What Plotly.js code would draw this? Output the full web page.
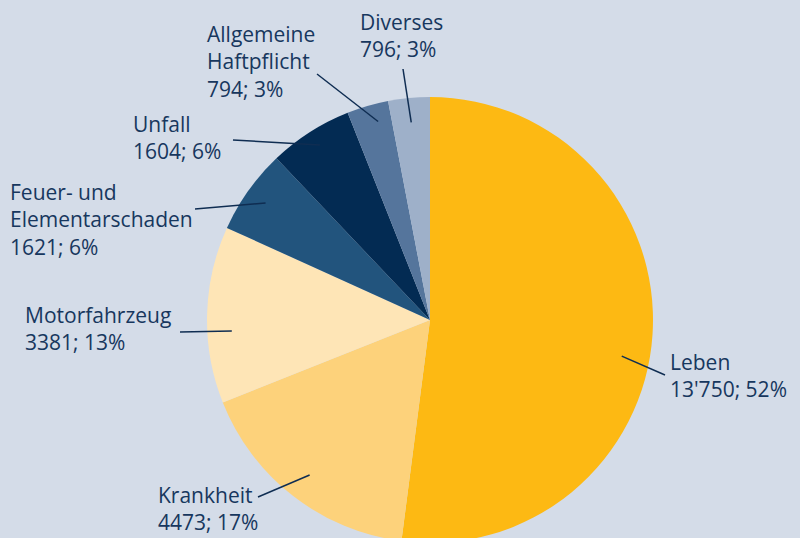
<!DOCTYPE html>
<html>
<head>
<meta charset="utf-8">
<script src="https://cdn.plot.ly/plotly-3.0.1.min.js"></script>
<style>
html, body { margin: 0; padding: 0; overflow: hidden; background: #d4dce8; }
#chart { width: 800px; height: 640px; }
</style>
</head>
<body>
<div id="chart"></div>
<script>
// ---- data ----
const categories = ["Leben", "Krankheit", "Motorfahrzeug", "Feuer- und<br>Elementarschaden", "Unfall", "Allgemeine<br>Haftpflicht", "Diverses"];
const values = [13750, 4473, 3381, 1621, 1604, 794, 796];
const valueLabels = ["13'750", "4473", "3381", "1621", "1604", "794", "796"];
const percentLabels = ["52%", "17%", "13%", "6%", "6%", "3%", "3%"];
const colors = ["#fdb913", "#fdd27b", "#fee5b6", "#22547d", "#032b53", "#55759c", "#9eb0c9"];

// ---- layout helpers ----
const W = 800, H = 640;
const cx = 430, cy = 320, R = 223;
const px2x = p => p / W;
const py2y = p => 1 - p / H;

// label text top-left positions and leader-line outer ends (px)
const labelPos = [[668, 346], [156, 479], [23, 299], [8, 176], [131, 108], [205, 18], [358, 6]];
const lineOuter = [[665, 375], [258, 497], [180, 332], [195, 209], [233, 140], [317, 74], [403, 69]];
const lineRf = [0.875, 0.88, 0.89, 0.905, 0.927, 0.92, 0.89];
const lineAngOff = [7, 0, -4.5, 0, 0.4, 1.6, 0];

const total = values.reduce((a, b) => a + b, 0);
let cum = 0;
const shapes = [], annotations = [];
values.forEach((v, i) => {
  const mid = (cum + v / 2) / total * 360 + lineAngOff[i];
  cum += v;
  const t = mid * Math.PI / 180;
  const ix = cx + lineRf[i] * R * Math.sin(t);
  const iy = cy - lineRf[i] * R * Math.cos(t);
  shapes.push({
    type: "line", xref: "paper", yref: "paper",
    x0: px2x(lineOuter[i][0]), y0: py2y(lineOuter[i][1]),
    x1: px2x(ix), y1: py2y(iy),
    line: { color: "#0f2d52", width: 1.5 }
  });
  annotations.push({
    xref: "paper", yref: "paper",
    x: px2x(labelPos[i][0]), y: py2y(labelPos[i][1]),
    xanchor: "left", yanchor: "top", align: "left",
    showarrow: false,
    text: categories[i] + "<br>" + valueLabels[i] + "; " + percentLabels[i],
    font: { family: "Open Sans, sans-serif", size: 21, color: "#17375e" }
  });
});

const trace = {
  type: "pie",
  labels: categories,
  values: values,
  sort: false,
  direction: "clockwise",
  rotation: 0,
  marker: { colors: colors, line: { width: 0 } },
  textinfo: "none",
  hoverinfo: "none",
  showlegend: false,
  domain: { x: [(cx - R) / W, (cx + R) / W], y: [(H - cy - R) / H, (H - cy + R) / H] }
};

Plotly.newPlot("chart", [trace], {
  width: W, height: H,
  margin: { l: 0, r: 0, t: 0, b: 0 },
  paper_bgcolor: "#d4dce8",
  plot_bgcolor: "#d4dce8",
  showlegend: false,
  shapes: shapes,
  annotations: annotations
}, { staticPlot: true });
</script>
</body>
</html>
